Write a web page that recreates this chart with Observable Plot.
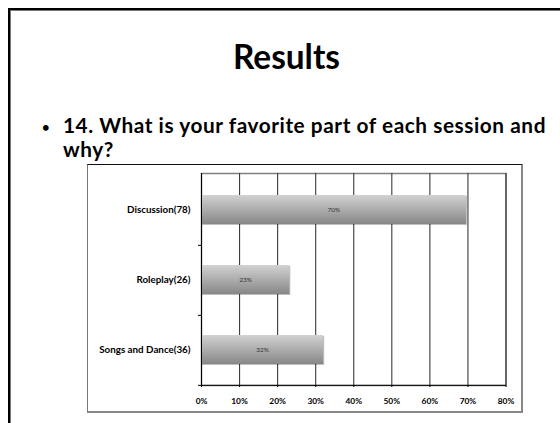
<!DOCTYPE html>
<html><head><meta charset="utf-8">
<script src="https://cdn.jsdelivr.net/npm/d3@7"></script>
<script src="https://cdn.jsdelivr.net/npm/@observablehq/plot@0.6"></script>
<style>
html,body{margin:0;padding:0;background:#fff;}
#slide{position:relative;width:560px;height:423px;overflow:hidden;font-family:Lato,"Open Sans",sans-serif;}
#frame{position:absolute;left:8px;top:8px;width:600px;height:500px;border-left:2px solid #000;border-top:2px solid #000;box-shadow:inset 1px 1px 0 #777;}
.t{position:absolute;white-space:nowrap;font-weight:bold;line-height:1;color:#000;}
#box{position:absolute;left:87px;top:164px;width:436px;height:249px;box-sizing:border-box;border-top:1px solid #111;border-left:1px solid #777;border-right:2px solid #888;border-bottom:2px solid #888;}
#chart{position:absolute;left:87px;top:164px;}
.bars rect{filter:drop-shadow(1px 1px 0.6px rgba(0,0,0,0.25));}
</style></head>
<body><div id="slide">
<div id="frame"></div>
<div class="t" id="title">Results</div>
<div class="t" id="bullet">•</div>
<div class="t" id="l1">14. What is your favorite part of each session and</div>
<div class="t" id="l2">why?</div>
<div id="box"></div>
<div id="chart"></div>
</div>
<script>
const categories = ["Discussion(78)", "Roleplay(26)", "Songs and Dance(36)"];
const shares = [0.696, 0.232, 0.321];
const valueLabels = ["70%", "23%", "32%"];
const xTicks = [0, 0.1, 0.2, 0.3, 0.4, 0.5, 0.6, 0.7, 0.8];

const rows = categories.map((c, i) => ({category: c, share: shares[i], label: valueLabels[i]}));

const W = 436, H = 249, mt = 9, mb = 28, ml = 114, mr = 17.5;
const pInner = 0.59, pOuter = 0.295;
const step = (H - mt - mb) / (categories.length - pInner + 2 * pOuter);
const tickLen = 3 * 0.8 / (W - ml - mr);

const chart = Plot.plot({
  width: W, height: H, marginTop: mt, marginBottom: mb, marginLeft: ml, marginRight: mr,
  style: {fontFamily: "Lato, 'Open Sans', sans-serif", background: "transparent", overflow: "visible"},
  x: {domain: [0, 0.8], ticks: xTicks, tickFormat: d3.format(".0%"), label: null},
  y: {domain: categories, paddingInner: pInner, paddingOuter: pOuter, label: null},
  marks: [
    Plot.frame({stroke: "#808080", strokeWidth: 1.5}),
    Plot.gridX(xTicks.slice(1), {stroke: "#3a3a3a", strokeOpacity: 1, strokeWidth: 1.1}),
    Plot.barX(rows, {y: "category", x: "share", fill: "url(#barGrad)", className: "bars"}),
    Plot.text(rows, {y: "category", x: d => d.share / 2, text: "label", fontSize: 6.5, fill: "#333"}),
    Plot.ruleX([0], {stroke: "#000"}),
    Plot.ruleY(categories.slice(-1), {dy: step / 2, stroke: "#000"}),
    Plot.ruleY(categories, {x1: -tickLen, x2: 0, dy: step / 2, stroke: "#000"}),
    Plot.axisX({ticks: xTicks, tickFormat: d3.format(".0%"), tickSize: 2, tickPadding: 11, fontSize: 8.4, fontWeight: "bold", fill: "#000", label: null}),
    Plot.axisY({tickSize: 0, tickPadding: 11, fontSize: 9.8, fontWeight: "bold", fill: "#000", label: null})
  ]
});
const ns = "http://www.w3.org/2000/svg";
const defs = document.createElementNS(ns, "defs");
defs.innerHTML = '<linearGradient id="barGrad" x1="0" y1="0" x2="0" y2="1"><stop offset="0" stop-color="#d2d2d2"/><stop offset="1" stop-color="#878787"/></linearGradient>';
chart.insertBefore(defs, chart.firstChild);
document.getElementById("chart").appendChild(chart);

// header text layout
function place(id, fs, left, baseline, opts = {}) {
  const el = document.getElementById(id);
  el.style.fontSize = fs + "px";
  el.style.top = "0px";
  el.style.left = "0px";
  if (opts.letterSpacing != null) el.style.letterSpacing = opts.letterSpacing + "px";
  if (opts.fitSize) {
    const w = el.getBoundingClientRect().width;
    fs = fs * opts.fitSize / w;
    el.style.fontSize = fs + "px";
  }
  let ls = opts.letterSpacing || 0;
  if (opts.fitSpacing) {
    const w = el.getBoundingClientRect().width;
    const n = el.textContent.length;
    ls = (opts.fitSpacing - w) / n;
    el.style.letterSpacing = ls + "px";
  }
  const probe = document.createElement("span");
  probe.style.cssText = "display:inline-block;width:0;height:0;vertical-align:baseline";
  el.appendChild(probe);
  const r = el.getBoundingClientRect();
  const base = probe.getBoundingClientRect().top - r.top;
  el.style.top = (baseline - base) + "px";
  el.style.left = (opts.center ? left - r.width / 2 : left) + "px";
  return ls;
}
place("title", 32, 286.5, 69, {fitSize: 107, center: true});
const ls1 = place("l1", 20.8, 63, 133, {fitSpacing: 483});
place("l2", 20.8, 63, 157, {letterSpacing: ls1});
place("bullet", 13, 42, 132);
</script>
</body></html>
